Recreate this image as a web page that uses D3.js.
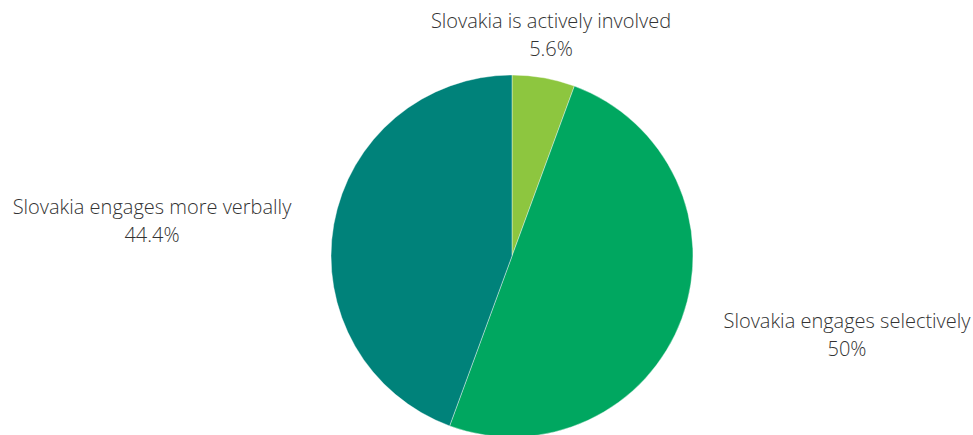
<!DOCTYPE html>
<html>
<head>
<meta charset="utf-8">
<script src="https://cdn.jsdelivr.net/npm/d3@7"></script>
<style>
  body { margin: 0; background: #fff; }
  text { font-family: "Open Sans", sans-serif; font-weight: 300; fill: #333; }
</style>
</head>
<body>
<div id="pie_chart"></div>
<script>
// data
var categories = ["Slovakia is actively involved", "Slovakia engages selectively", "Slovakia engages more verbally"];
var values = [5.6, 50, 44.4];
var valueLabels = ["5.6%", "50%", "44.4%"];
var colors = ["#8dc63f", "#00a760", "#00827a"];

var width = 973, height = 435;
var cx = 512, cy = 256, radius = 181;

var svg = d3.select("#pie_chart")
  .append("svg")
    .attr("width", width)
    .attr("height", height);

var g = svg.append("g")
    .attr("transform", "translate(" + cx + "," + cy + ")");

var pie = d3.pie().sort(null).value(function(d) { return d; });
var arc = d3.arc().innerRadius(0).outerRadius(radius);
var arcs = pie(values);

g.selectAll("path")
  .data(arcs)
  .enter().append("path")
    .attr("d", arc)
    .attr("fill", function(d, i) { return colors[i]; })
    .attr("stroke", "#fff")
    .attr("stroke-width", 0.4);

// label positions (offsets from centre, picked to match the original)
var labelPos = [[39, -228], [335, 72], [-360, -42]];

arcs.forEach(function(d, i) {
  var t = g.append("text")
    .attr("x", labelPos[i][0])
    .attr("y", labelPos[i][1])
    .style("text-anchor", "middle")
    .style("font-size", "20px");
  t.append("tspan").attr("x", labelPos[i][0]).text(categories[i]);
  t.append("tspan").attr("x", labelPos[i][0]).attr("dy", 28).text(valueLabels[i]);
});
</script>
</body>
</html>
